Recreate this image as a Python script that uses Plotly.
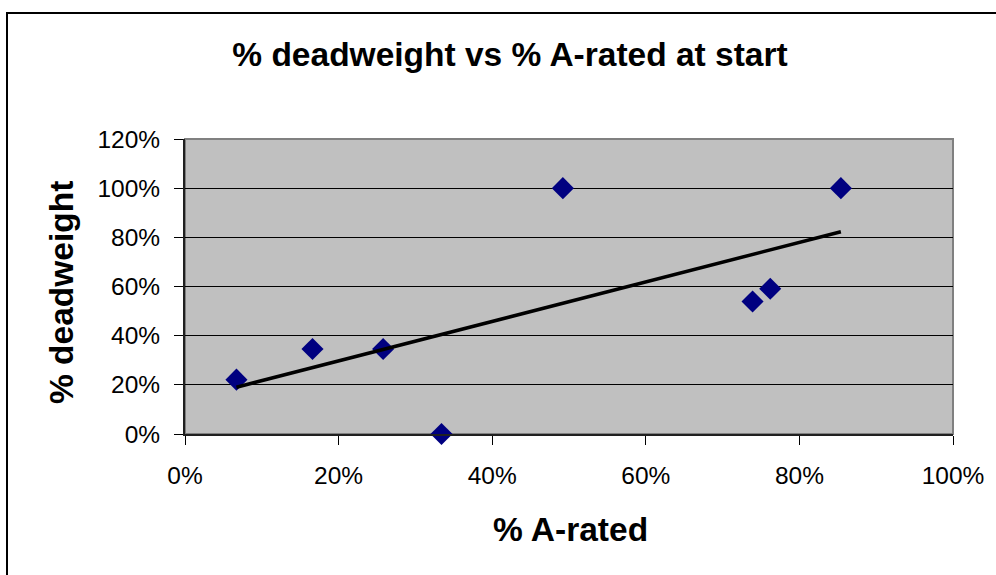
import numpy as np
import plotly.graph_objects as go

# Share of A-rated at start (x) and share of deadweight (y), as fractions
pct_a_rated = [0.067, 0.166, 0.258, 0.334, 0.492, 0.739, 0.762, 0.854]
pct_deadweight = [0.221, 0.346, 0.346, 0.0, 1.0, 0.539, 0.591, 1.0]

x_ticks = [0, 0.2, 0.4, 0.6, 0.8, 1.0]
x_tick_labels = ["0%", "20%", "40%", "60%", "80%", "100%"]
y_ticks = [0, 0.2, 0.4, 0.6, 0.8, 1.0, 1.2]
y_tick_labels = ["0%", "20%", "40%", "60%", "80%", "100%", "120%"]

# Linear least-squares trendline over the data range
slope, intercept = np.polyfit(pct_a_rated, pct_deadweight, 1)
trend_x = [min(pct_a_rated), max(pct_a_rated)]
trend_y = [slope * v + intercept for v in trend_x]

W, H = 996, 575
L, R, T, B = 185, 43, 139, 141
PW, PH = W - L - R, H - T - B

def px(xpix):
    return (xpix - L) / PW

def py(ypix):
    return (H - B - ypix) / PH

font = "Liberation Sans, Arial, sans-serif"

fig = go.Figure()
fig.add_trace(go.Scatter(
    x=pct_a_rated, y=pct_deadweight, mode="markers",
    marker=dict(symbol="diamond", size=17, color="#000080", line=dict(width=0)),
    showlegend=False, cliponaxis=False,
))
fig.add_trace(go.Scatter(
    x=trend_x, y=trend_y, mode="lines",
    line=dict(color="black", width=3.5), showlegend=False,
))

fig.update_layout(
    width=W, height=H,
    margin=dict(l=L, r=R, t=T, b=B),
    paper_bgcolor="white",
    plot_bgcolor="#C0C0C0",
    font=dict(family=font, color="black"),
    showlegend=False,
    title=dict(
        text="<b>% deadweight vs % A-rated at start</b>",
        font=dict(size=33.5, family=font, color="black"),
        x=510 / W, xanchor="center", xref="container",
        y=1 - 54 / H, yanchor="middle", yref="container",
    ),
    shapes=[
        # plot-area frame
        dict(type="rect", xref="paper", yref="paper", x0=0, x1=1, y0=0, y1=1,
             line=dict(color="#808080", width=2), layer="below"),
        # chart-area frame
        dict(type="rect", xref="paper", yref="paper",
             x0=px(7), x1=px(1005), y0=py(585), y1=py(13),
             line=dict(color="black", width=2)),
    ],
    annotations=[
        dict(text="<b>% A-rated</b>", xref="paper", yref="paper",
             x=px(570), y=py(529), showarrow=False,
             xanchor="center", yanchor="middle",
             font=dict(size=33.5, family=font, color="black")),
        dict(text="<b>% deadweight</b>", xref="paper", yref="paper",
             x=px(61), y=py(293), showarrow=False, textangle=-90,
             xanchor="center", yanchor="middle",
             font=dict(size=33.5, family=font, color="black")),
    ],
)

fig.update_xaxes(
    range=[0, 1], tickvals=x_ticks, ticktext=x_tick_labels,
    showgrid=False, zeroline=False,
    showline=True, linecolor="#202020", linewidth=2,
    ticks="outside", ticklen=9, tickwidth=1, tickcolor="black",
    tickfont=dict(size=24.5, family=font, color="black"),
    ticklabelstandoff=10,
)
fig.update_yaxes(
    range=[0, 1.2], tickvals=y_ticks, ticktext=y_tick_labels,
    showgrid=True, gridcolor="black", gridwidth=1, zeroline=False,
    showline=True, linecolor="#202020", linewidth=2,
    ticks="outside", ticklen=9, tickwidth=1, tickcolor="black",
    tickfont=dict(size=24.5, family=font, color="black"),
    ticklabelstandoff=9,
)

fig.write_html("out.html")
